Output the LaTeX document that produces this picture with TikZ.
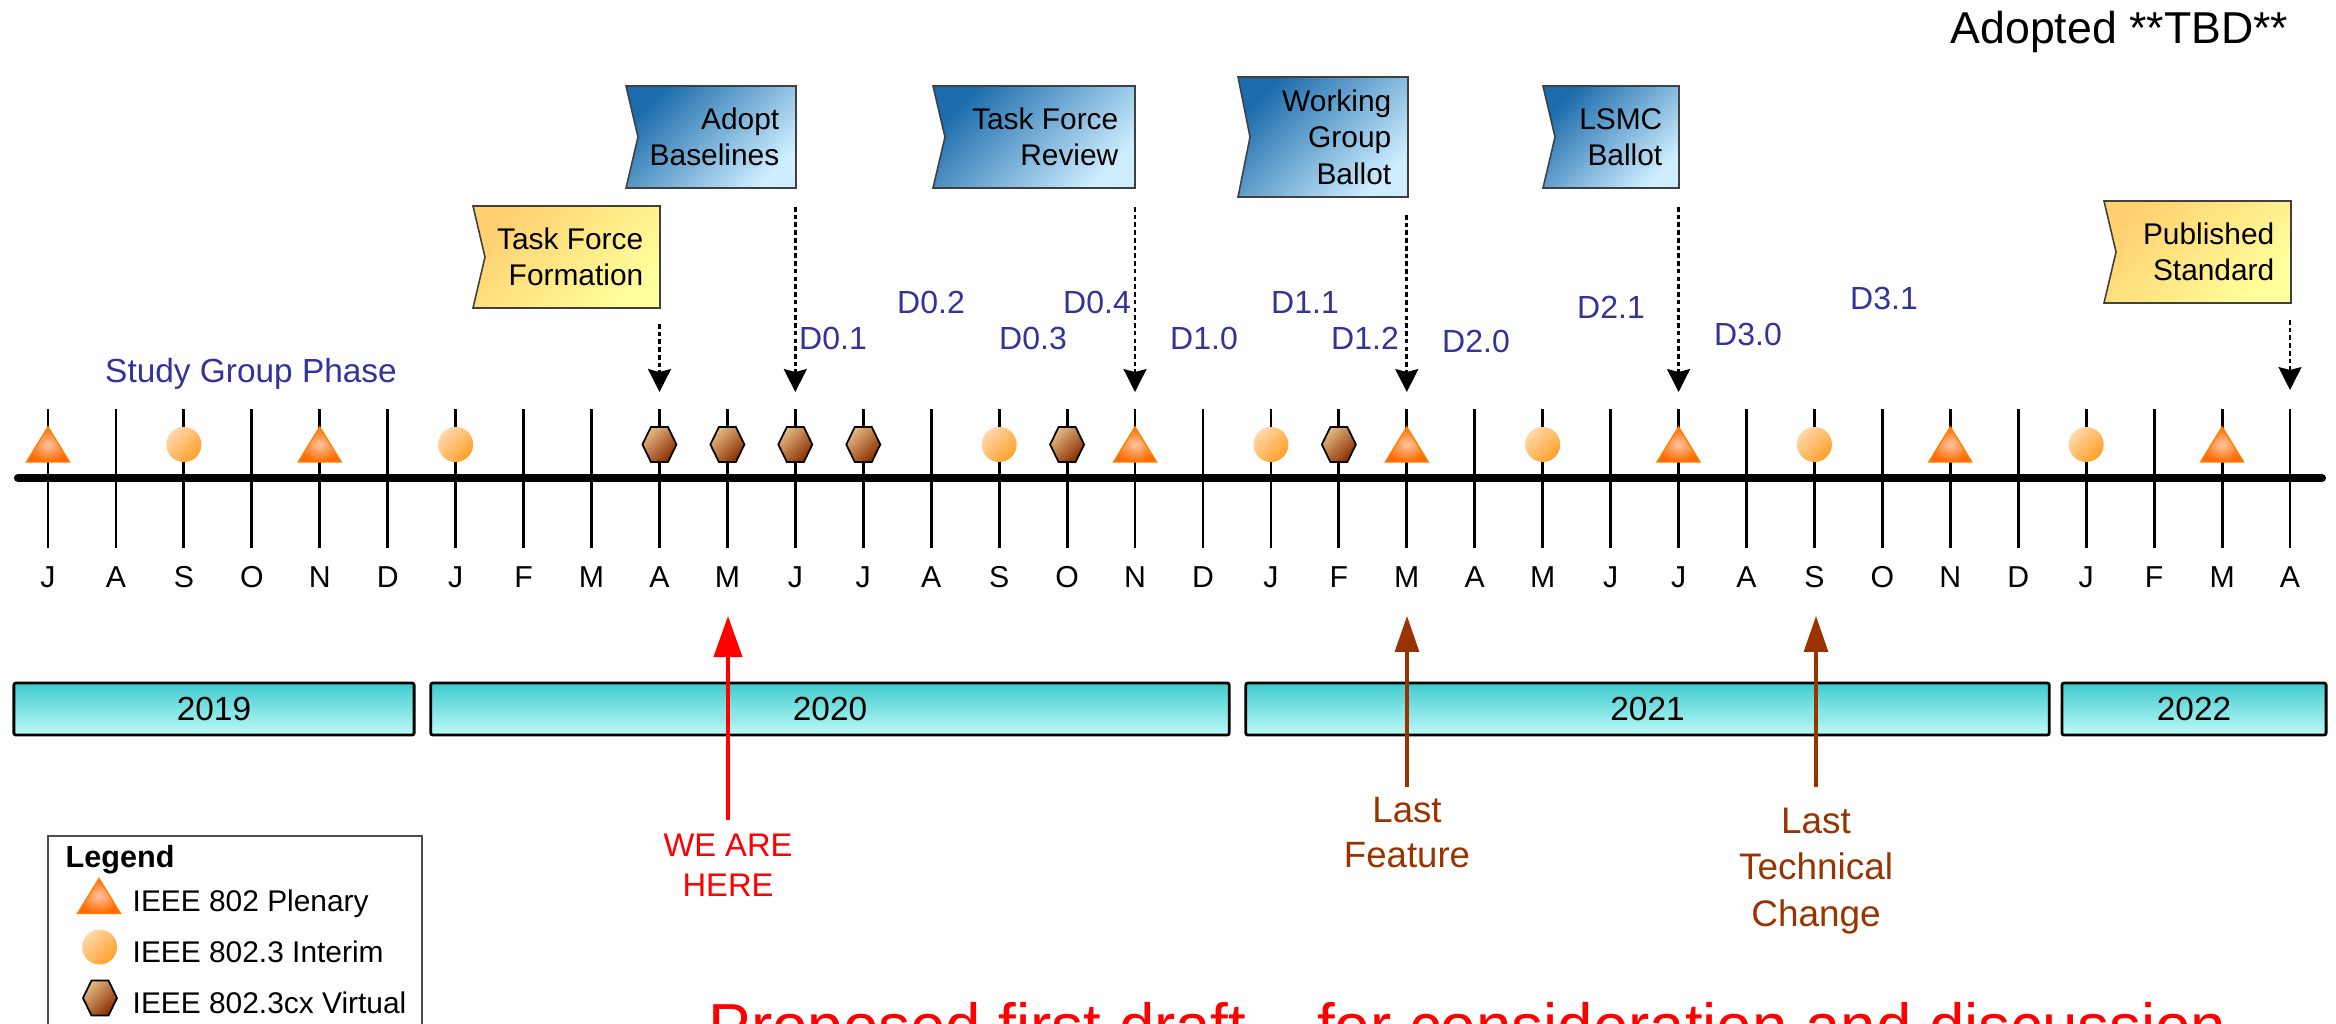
\documentclass[tikz,border=0pt]{standalone}
\usepackage{fontspec}
\setmainfont{Liberation Sans}
\usetikzlibrary{arrows.meta,calc}
\definecolor{dblue}{RGB}{51,51,153}
\definecolor{brownc}{RGB}{153,51,0}
\definecolor{flagA}{RGB}{28,108,172}
\definecolor{flagB}{RGB}{206,238,255}
\definecolor{yelA}{RGB}{255,208,112}
\definecolor{yelB}{RGB}{255,255,155}
\definecolor{barA}{RGB}{64,204,206}
\definecolor{barB}{RGB}{190,250,248}
\definecolor{triIn}{RGB}{255,196,160}
\definecolor{triOut}{RGB}{255,106,0}
\definecolor{triLine}{RGB}{255,128,0}
\definecolor{circA}{RGB}{255,216,170}
\definecolor{circB}{RGB}{255,160,40}
\definecolor{hexA}{RGB}{228,186,130}
\definecolor{hexB}{RGB}{138,44,0}

\newcommand\flagbox[7]{%
  \shadedraw[#6] (#2,#3) -- (#4,#3) -- (#4,#5) -- (#2,#5) -- ({#2+12},{(#3+#5)/2}) -- cycle;
  \node[flagtext] (#1) at ({#4-16},{(#3+#5)/2}) {#7};
}
\newcommand\tlTri[2]{\shadedraw[trisym] ({#1-21.5},{#2+17.5}) -- ({#1+21.5},{#2+17.5}) -- ({#1},{#2-17.5}) -- cycle;}
\newcommand\tlCirc[2]{\shade[circsym] ({#1},{#2}) circle[radius=17.5];}
\newcommand\tlHex[2]{\shadedraw[hexsym] ({#1-17},{#2}) -- ({#1-8.5},{#2-17.5}) -- ({#1+8.5},{#2-17.5}) -- ({#1+17},{#2}) -- ({#1+8.5},{#2+17.5}) -- ({#1-8.5},{#2+17.5}) -- cycle;}

\begin{document}
\begin{tikzpicture}[x=0.01cm, y=-0.01cm,
  tick/.style={line width=0.8pt},
  monlabel/.style={font=\fontsize{8.6}{10}\selectfont, inner sep=0},
  dlabel/.style={font=\fontsize{9.1}{11}\selectfont, text=dblue, inner sep=0},
  flagtext/.style={anchor=east, align=right, inner sep=0, font=\fontsize{8.5}{10.4}\selectfont},
  blueflag/.style={draw=black!75, line width=0.45pt, top color=flagA, bottom color=flagB, shading angle=45},
  yellowflag/.style={draw=black!75, line width=0.45pt, top color=yelA, bottom color=yelB, shading angle=45},
  dotarrow/.style={line width=0.75pt, dash pattern=on 1.3pt off 0.9pt, -{Stealth[length=6.5pt,width=6.5pt,inset=0.8pt]}},
  yearbar/.style={draw=black, line width=0.8pt, rounded corners=0.6pt, top color=barA, bottom color=barB, minimum height=0.52cm, inner sep=0, font=\fontsize{9.5}{11}\selectfont},
  trisym/.style={draw=triLine, line width=0.4pt, inner color=triIn, outer color=triOut},
  circsym/.style={top color=circA, bottom color=circB, shading angle=45},
  hexsym/.style={draw=black, line width=0.5pt, top color=hexA, bottom color=hexB, shading angle=45},
  redarrow/.style={draw=red, line width=1.1pt, -{Triangle[length=11.7pt,width=8pt]}},
  brownarrow/.style={draw=brownc, line width=0.9pt, -{Triangle[length=10.2pt,width=6.8pt]}},
]
\useasboundingbox (0,0) rectangle (2336,1023);
\clip (0,0) rectangle (2336,1023);

% title
\node[anchor=base east, inner sep=0, font=\fontsize{12.7}{15}\selectfont] (adopted) at (2289,43) {Adopted **TBD**};

% month ticks and labels
\foreach \m [count=\i from 0] in {J,A,S,O,N,D,J,F,M,A,M,J,J,A,S,O,N,D,J,F,M,A,M,J,J,A,S,O,N,D,J,F,M,A} {
  \draw[tick] ({48+67.94*\i},409) -- ({48+67.94*\i},548);
  \node[monlabel] (mon\i) at ({48+67.94*\i},577) {\m};
}
% main line
\coordinate (lineL) at (18,478);
\coordinate (lineR) at (2322,478);
\draw[line width=2.3pt, line cap=round] (lineL) -- (lineR);

% symbols
\foreach \i in {0,4,16,20,24,28,32} {\tlTri{48+67.94*\i}{444.5}}
\foreach \i in {2,6,14,18,22,26,30} {\tlCirc{48+67.94*\i}{444.5}}
\foreach \i in {9,10,11,12,15,19} {\tlHex{48+67.94*\i}{444.5}}

% flags
\flagbox{tff}{473}{206}{660}{308}{yellowflag}{Task Force\\Formation}
\flagbox{ab}{626}{86}{796}{188}{blueflag}{Adopt\\Baselines}
\flagbox{tfr}{933}{86}{1135}{188}{blueflag}{Task Force\\Review}
\flagbox{wgb}{1238}{77}{1408}{197}{blueflag}{Working\\Group\\Ballot}
\flagbox{lsmc}{1543}{86}{1679}{188}{blueflag}{LSMC\\Ballot}
\flagbox{ps}{2104}{201}{2291}{303}{yellowflag}{Published\\Standard}

% dotted arrows
\coordinate (tffS) at (659.5,324);  \coordinate (tffT) at (659.5,392);
\coordinate (abS) at (795.3,207);   \coordinate (abT) at (795.3,392);
\coordinate (tfrS) at (1135,207);   \coordinate (tfrT) at (1135,392);
\coordinate (wgbS) at (1406.8,215); \coordinate (wgbT) at (1406.8,392);
\coordinate (lsmcS) at (1678.6,207);\coordinate (lsmcT) at (1678.6,392);
\coordinate (psS) at (2290,320);    \coordinate (psT) at (2290,390);
\foreach \a in {tff,ab,tfr,wgb,lsmc,ps} {\draw[dotarrow] (\a S) -- (\a T);}

% draft labels
\node[dlabel] (d01) at (833,338) {D0.1};
\node[dlabel] (d02) at (931,302) {D0.2};
\node[dlabel] (d03) at (1033,338) {D0.3};
\node[dlabel] (d04) at (1097,302) {D0.4};
\node[dlabel] (d10) at (1204,338) {D1.0};
\node[dlabel] (d11) at (1305,302) {D1.1};
\node[dlabel] (d12) at (1365,338) {D1.2};
\node[dlabel] (d20) at (1476,341) {D2.0};
\node[dlabel] (d21) at (1611,307) {D2.1};
\node[dlabel] (d30) at (1748,334) {D3.0};
\node[dlabel] (d31) at (1884,298) {D3.1};
\node[anchor=base, inner sep=0, text=dblue, font=\fontsize{9.5}{11}\selectfont] (sgp) at (251,382) {Study Group Phase};

% year bars
\node[yearbar, minimum width=4.00cm] (y2019) at (214,709) {2019};
\node[yearbar, minimum width=7.98cm] (y2020) at (830,709) {2020};
\node[yearbar, minimum width=8.03cm] (y2021) at (1647.5,709) {2021};
\node[yearbar, minimum width=2.64cm] (y2022) at (2194,709) {2022};

% we are here
\node[anchor=north, align=center, inner sep=0, text=red, font=\fontsize{9.3}{11.4}\selectfont] (weh) at (728,833) {WE ARE\\HERE};
\coordinate (wehB) at (728,820);
\coordinate (wehT) at (728,616);
\draw[redarrow] (wehB) -- (wehT);

% last feature
\node[anchor=north, align=center, inner sep=0, text=brownc, font=\fontsize{10.4}{12.8}\selectfont] (lf) at (1407,797) {Last\\Feature};
\coordinate (lfB) at (1407,787);
\coordinate (lfT) at (1407,616);
\draw[brownarrow] (lfB) -- (lfT);

% last technical change
\node[anchor=north, align=center, inner sep=0, text=brownc, font=\fontsize{10.5}{13.3}\selectfont] (ltc) at (1816,807) {Last\\Technical\\Change};
\coordinate (ltcB) at (1816,787);
\coordinate (ltcT) at (1816,616);
\draw[brownarrow] (ltcB) -- (ltcT);

% legend
\draw[draw=black!70, line width=0.5pt] (48,836) rectangle (422,1060);
\node[anchor=base west, inner sep=0, font=\bfseries\fontsize{8.7}{10}\selectfont] (leg) at (65,867) {Legend};
\tlTri{99}{896}
\tlCirc{99.5}{947}
\tlHex{100}{998}
\node[anchor=base west, inner sep=0, font=\fontsize{8.5}{10}\selectfont] (lg1) at (132,911) {IEEE 802 Plenary};
\node[anchor=base west, inner sep=0, font=\fontsize{8.5}{10}\selectfont] (lg2) at (132,962) {IEEE 802.3 Interim};
\node[anchor=base west, inner sep=0, font=\fontsize{8.5}{10}\selectfont] (lg3) at (132,1013) {IEEE 802.3cx Virtual};

% bottom note (cut off by the frame, as in the reference)
\node[anchor=base west, inner sep=0, text=red, font=\fontsize{18.1}{21}\selectfont] (note) at (708,1048) {Proposed first draft – for consideration and discussion};
\end{tikzpicture}
\end{document}
